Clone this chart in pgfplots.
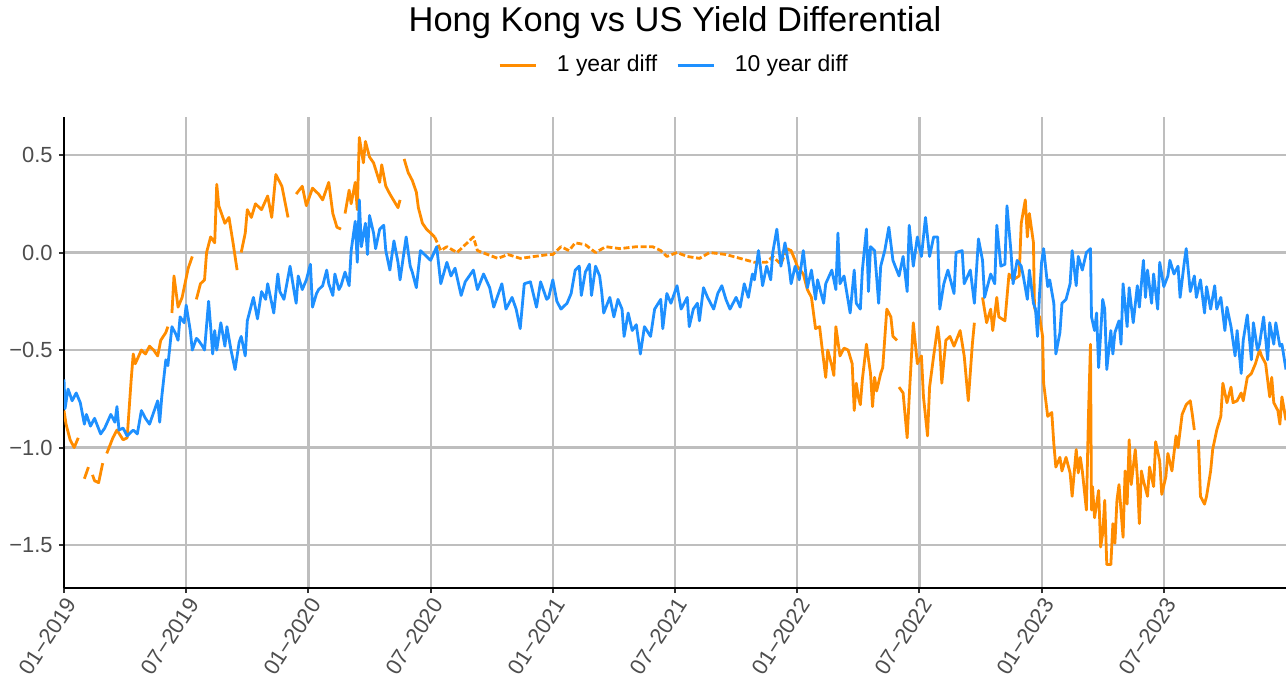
\documentclass[border=0pt]{standalone}
\usepackage{fontspec}
\setmainfont{Liberation Sans}
\usepackage{pgfplots}
\pgfplotsset{compat=1.18}
\definecolor{c1}{HTML}{FF8C00}
\definecolor{c2}{HTML}{1E90FF}
\definecolor{gridc}{HTML}{BEBEBE}
\definecolor{tickc}{HTML}{4D4D4D}
\begin{document}
\begin{tikzpicture}
\begin{axis}[
  at={(0,0)}, anchor=south west,
  scale only axis, width=611bp, height=235.5bp,
  xmin=0, xmax=60, ymin=-1.72, ymax=0.695,
  axis x line*=bottom, axis y line*=left,
  axis line style={black, line width=1.1bp},
  xtick={0,6,...,54},
  xticklabels={01−2019,07−2019,01−2020,07−2020,01−2021,07−2021,01−2022,07−2022,01−2023,07−2023},
  ytick={-1.5,-1,-0.5,0,0.5},
  yticklabels={−1.5,−1.0,−0.5,0.0,0.5},
  tick align=outside, major tick length=2.5bp,
  tick style={black!80, line width=1bp},
  grid=major, major grid style={gridc, line width=1.1bp},
  ticklabel style={font=\fontsize{11}{13}\selectfont, text=tickc},
  yticklabel style={inner sep=1.5bp, xshift=-1.5bp},
  xticklabel style={rotate=57, anchor=north east, inner sep=1bp},
  every axis title shift=0pt,
  title={Hong Kong vs US Yield Differential},
  title style={at={(0.5,1.1805)}, anchor=base, font=\fontsize{17.3}{20}\selectfont},
  legend style={at={(0.5,1.110)}, anchor=center, draw=none, fill=none,
    font=\fontsize{11.5}{13}\selectfont, legend columns=-1,
    /tikz/every odd column/.append style={column sep=8bp},
    /tikz/every even column/.append style={column sep=7.5bp}},
  legend image code/.code={\draw[#1, line width=1.4bp] (0bp,0bp) -- (18bp,0bp);},
  unbounded coords=jump,
  every axis plot/.append style={line width=1.4bp, line join=round},
]
\addplot[c1] table {
x y
0.0 -0.81
0.1 -0.88
0.3 -0.96
0.5 -1.00
0.7 -0.95
0.85 nan
1.0 -1.16
1.2 -1.10
1.35 nan
1.4 -1.14
1.5 -1.17
1.7 -1.18
1.9 -1.08
2.0 nan
2.1 -1.03
2.4 -0.95
2.6 -0.91
2.9 -0.96
3.1 -0.95
3.3 -0.65
3.4 -0.52
3.5 -0.57
3.8 -0.50
4.0 -0.52
4.2 -0.48
4.4 -0.50
4.6 -0.53
4.75 -0.45
5.0 -0.41
5.1 -0.38
5.2 nan
5.3 -0.31
5.4 -0.12
5.6 -0.28
5.8 -0.23
6.1 -0.08
6.3 -0.02
6.4 nan
6.5 -0.24
6.7 -0.16
6.9 -0.14
7.0 0.00
7.2 0.08
7.4 0.05
7.5 0.35
7.6 0.24
7.9 0.15
8.1 0.18
8.3 0.05
8.5 -0.09
8.6 nan
8.7 0.00
8.9 0.10
9.0 0.22
9.2 0.18
9.4 0.25
9.7 0.22
10.0 0.29
10.2 0.18
10.4 0.40
10.7 0.34
11.0 0.18
11.2 nan
11.4 0.30
11.7 0.34
11.9 0.24
12.2 0.33
12.5 0.30
12.7 0.27
13.0 0.36
13.2 0.20
13.4 0.13
13.6 0.12
13.7 nan
13.8 0.20
14.0 0.32
14.1 0.25
14.3 0.36
14.4 0.22
14.5 0.59
14.7 0.46
14.8 0.57
15.0 0.49
15.2 0.46
15.5 0.36
15.6 0.45
15.8 0.34
16.0 0.30
16.4 0.23
16.5 0.27
16.6 nan
16.7 0.48
16.9 0.41
17.1 0.37
17.3 0.31
17.4 0.23
17.6 0.15
17.8 0.12
18.2 0.08
};
\addlegendentry{1 year diff}
\addplot[c1, forget plot, dash pattern=on 3bp off 1.3bp] table {
x y
18.2 0.08
18.5 0.01
18.8 0.03
19.3 0.00
19.6 0.03
20.1 0.08
20.3 0.01
20.8 -0.01
21.3 -0.03
21.8 -0.01
22.4 -0.03
23.1 -0.02
23.8 -0.01
24.0 -0.01
24.4 0.03
24.8 0.01
25.1 0.05
25.6 0.04
26.1 0.00
26.6 0.03
27.3 0.02
28.1 0.03
28.9 0.03
29.3 0.01
29.6 -0.02
30.1 0.00
30.6 -0.02
31.2 -0.03
31.7 0.00
32.5 -0.01
33.2 -0.03
33.9 -0.05
34.5 -0.05
34.8 -0.02
35.2 -0.06
35.5 0.02
};
\addplot[c1, forget plot] table {
x y
35.5 0.02
35.7 0.01
35.9 -0.04
36.0 -0.07
36.3 -0.11
36.5 -0.19
36.7 -0.23
36.9 -0.39
37.1 -0.38
37.2 -0.47
37.4 -0.64
37.5 -0.50
37.7 -0.58
37.8 -0.63
37.9 -0.38
38.1 -0.53
38.3 -0.49
38.5 -0.50
38.7 -0.57
38.8 -0.81
38.9 -0.67
39.0 -0.74
39.1 -0.78
39.2 -0.65
39.4 -0.47
39.6 -0.62
39.7 -0.79
39.8 -0.64
39.9 -0.71
40.1 -0.62
40.2 -0.59
40.4 -0.29
40.6 -0.33
40.7 -0.43
40.9 -0.45
40.95 nan
41.0 -0.69
41.2 -0.72
41.4 -0.95
41.5 -0.74
41.7 -0.36
41.9 -0.57
42.1 -0.53
42.2 -0.74
42.4 -0.94
42.5 -0.69
42.7 -0.53
42.9 -0.38
43.0 -0.47
43.1 -0.67
43.3 -0.45
43.5 -0.43
43.7 -0.48
44.0 -0.40
44.2 -0.53
44.4 -0.76
44.6 -0.47
44.7 -0.36
44.9 nan
45.1 -0.23
45.3 -0.36
45.5 -0.29
45.6 -0.40
45.8 -0.23
45.9 -0.33
46.2 -0.35
46.4 -0.11
46.6 -0.14
46.9 -0.12
47.0 0.15
47.2 0.27
47.3 0.08
47.4 0.20
47.6 0.05
47.65 -0.28
47.7 -0.30
47.9 -0.33
48.05 -0.43
48.1 -0.67
48.3 -0.84
48.5 -0.82
48.6 -0.98
48.7 -1.10
48.9 -1.05
49.0 -1.12
49.2 -1.05
49.4 -1.13
49.5 -1.25
49.7 -1.01
49.8 -1.13
49.9 -1.05
50.0 -1.12
50.2 -1.32
50.3 -0.84
50.4 -0.47
50.45 -1.32
50.5 -1.20
50.6 -1.36
50.8 -1.22
50.9 -1.51
51.0 -1.44
51.1 -1.27
51.2 -1.60
51.4 -1.60
51.5 -1.39
51.6 -1.49
51.7 -1.27
51.8 -1.19
52.0 -1.46
52.1 -1.12
52.2 -1.29
52.3 -0.96
52.4 -1.19
52.6 -1.01
52.7 -1.15
52.8 -1.39
52.9 -1.12
53.0 -1.17
53.2 -1.25
53.3 -1.10
53.5 -1.20
53.6 -0.97
53.8 -1.07
53.9 -1.24
54.1 -1.15
54.2 -1.03
54.4 -1.12
54.6 -0.94
54.7 -1.00
54.9 -0.83
55.1 -0.78
55.3 -0.76
55.4 -0.83
55.5 -0.91
55.6 nan
55.7 -0.96
55.8 -1.25
56.0 -1.29
56.1 -1.25
56.3 -1.12
56.4 -1.01
56.5 -0.96
56.6 -0.91
56.8 -0.84
56.9 -0.67
57.1 -0.77
57.3 -0.69
57.4 -0.77
57.6 -0.76
57.8 -0.72
57.9 -0.76
58.1 -0.64
58.3 -0.62
58.5 -0.57
58.7 -0.50
58.8 -0.53
59.0 -0.57
59.2 -0.74
59.3 -0.64
59.4 -0.77
59.6 -0.81
59.7 -0.88
59.8 -0.74
60.0 -0.86
};
\addplot[c2] table {
x y
0.0 -0.65
0.05 -0.80
0.2 -0.70
0.4 -0.76
0.6 -0.72
0.8 -0.77
1.0 -0.88
1.1 -0.83
1.3 -0.89
1.5 -0.85
1.8 -0.93
2.0 -0.90
2.3 -0.83
2.5 -0.87
2.6 -0.79
2.7 -0.91
2.9 -0.90
3.1 -0.94
3.4 -0.91
3.6 -0.93
3.8 -0.81
4.0 -0.85
4.2 -0.88
4.4 -0.82
4.6 -0.76
4.7 -0.87
4.8 -0.74
5.0 -0.55
5.1 -0.58
5.3 -0.38
5.5 -0.42
5.6 -0.45
5.7 -0.33
5.9 -0.36
6.0 -0.27
6.2 -0.40
6.3 -0.50
6.5 -0.44
6.6 -0.45
6.8 -0.48
6.9 -0.50
7.1 -0.25
7.2 -0.38
7.3 -0.52
7.4 -0.40
7.5 -0.50
7.7 -0.36
7.9 -0.48
8.0 -0.38
8.2 -0.50
8.4 -0.60
8.6 -0.46
8.7 -0.43
8.9 -0.53
9.0 -0.35
9.3 -0.23
9.5 -0.34
9.7 -0.20
9.9 -0.24
10.0 -0.16
10.3 -0.31
10.5 -0.11
10.6 -0.20
10.8 -0.24
11.1 -0.07
11.3 -0.20
11.4 -0.26
11.5 -0.12
11.7 -0.19
11.9 -0.14
12.1 -0.06
12.2 -0.28
12.4 -0.21
12.5 -0.19
12.7 -0.17
12.9 -0.09
13.0 -0.16
13.2 -0.22
13.3 -0.11
13.5 -0.19
13.6 -0.17
13.8 -0.10
14.0 -0.17
14.1 0.01
14.3 0.16
14.4 -0.05
14.5 0.27
14.6 0.03
14.8 0.15
14.9 -0.01
15.0 0.19
15.2 0.10
15.3 0.02
15.5 0.12
15.7 0.14
15.8 0.01
16.0 -0.09
16.2 0.06
16.4 -0.05
16.5 -0.14
16.8 0.08
17.0 -0.07
17.1 -0.10
17.3 -0.18
17.5 0.01
17.8 -0.02
18.0 -0.04
18.3 0.03
18.5 -0.16
18.8 -0.05
19.0 -0.12
19.2 -0.08
19.5 -0.22
19.7 -0.15
20.1 -0.09
20.3 -0.19
20.6 -0.11
20.9 -0.18
21.1 -0.28
21.5 -0.16
21.7 -0.29
22.0 -0.23
22.2 -0.29
22.4 -0.39
22.6 -0.16
22.9 -0.15
23.2 -0.28
23.4 -0.15
23.7 -0.24
23.8 -0.23
24.0 -0.14
24.2 -0.25
24.4 -0.29
24.7 -0.26
24.9 -0.21
25.1 -0.09
25.3 -0.07
25.4 -0.22
25.6 -0.10
25.8 -0.06
25.9 -0.22
26.1 -0.07
26.3 -0.12
26.4 -0.20
26.5 -0.31
26.8 -0.23
27.0 -0.33
27.2 -0.24
27.4 -0.29
27.5 -0.43
27.7 -0.31
27.9 -0.40
28.1 -0.37
28.3 -0.52
28.5 -0.38
28.8 -0.43
29.0 -0.29
29.3 -0.24
29.4 -0.39
29.6 -0.21
29.8 -0.26
30.1 -0.17
30.3 -0.29
30.6 -0.23
30.7 -0.38
30.9 -0.29
31.1 -0.26
31.2 -0.35
31.4 -0.18
31.6 -0.23
31.9 -0.29
32.1 -0.21
32.3 -0.17
32.5 -0.24
32.7 -0.29
33.0 -0.23
33.2 -0.28
33.4 -0.16
33.6 -0.23
33.8 -0.11
33.9 -0.14
34.1 0.01
34.3 -0.17
34.5 -0.07
34.7 -0.14
34.8 0.00
35.0 0.12
35.2 -0.07
35.4 0.05
35.6 -0.07
35.7 -0.16
35.9 -0.07
36.0 -0.10
36.1 -0.14
36.3 0.01
36.5 -0.18
36.7 -0.09
36.9 -0.24
37.0 -0.14
37.3 -0.26
37.4 -0.16
37.7 -0.09
37.9 -0.19
38.0 0.10
38.1 -0.16
38.3 -0.12
38.6 -0.31
38.8 -0.09
38.9 -0.26
39.1 -0.29
39.2 -0.09
39.4 0.12
39.5 -0.20
39.6 0.03
39.8 0.01
40.0 -0.26
40.1 -0.07
40.3 0.01
40.5 0.13
40.7 -0.04
41.0 -0.12
41.2 -0.02
41.4 -0.20
41.5 0.14
41.7 -0.07
41.9 0.08
42.1 -0.02
42.3 0.18
42.5 -0.02
42.7 0.08
42.9 0.08
43.0 -0.29
43.2 -0.16
43.4 -0.09
43.7 -0.21
43.8 0.00
44.1 0.01
44.2 -0.16
44.5 -0.09
44.7 -0.26
44.9 0.07
45.1 -0.04
45.2 -0.23
45.5 -0.11
45.7 -0.16
45.8 0.14
46.0 -0.07
46.2 -0.06
46.3 0.24
46.5 0.00
46.6 -0.16
46.8 -0.04
47.0 -0.07
47.1 -0.12
47.3 -0.24
47.4 -0.09
47.6 -0.26
47.7 -0.29
47.8 -0.43
47.9 -0.21
48.0 -0.05
48.1 0.02
48.3 -0.175
48.4 -0.14
48.6 -0.26
48.7 -0.52
48.9 -0.41
49.0 -0.26
49.2 -0.24
49.4 -0.16
49.5 0.01
49.7 -0.17
49.8 -0.02
50.0 -0.09
50.2 0.00
50.4 0.02
50.45 -0.33
50.6 -0.40
50.7 -0.31
50.8 -0.59
51.0 -0.24
51.1 -0.29
51.2 -0.60
51.4 -0.40
51.5 -0.52
51.6 -0.41
51.8 -0.35
51.9 -0.47
52.0 -0.16
52.2 -0.38
52.3 -0.18
52.5 -0.36
52.7 -0.17
52.8 -0.28
53.0 -0.04
53.1 -0.23
53.2 -0.09
53.4 -0.26
53.5 -0.11
53.7 -0.29
53.8 -0.05
54.0 -0.175
54.2 -0.12
54.3 -0.04
54.5 -0.11
54.7 -0.07
54.8 -0.23
55.0 -0.055
55.1 0.02
55.3 -0.20
55.5 -0.12
55.6 -0.23
55.8 -0.14
56.0 -0.31
56.1 -0.175
56.3 -0.29
56.5 -0.17
56.6 -0.29
56.8 -0.23
57.0 -0.40
57.1 -0.28
57.3 -0.38
57.5 -0.53
57.6 -0.40
57.8 -0.62
57.9 -0.45
58.1 -0.32
58.3 -0.55
58.4 -0.36
58.6 -0.50
58.7 -0.47
58.9 -0.33
59.1 -0.55
59.2 -0.36
59.4 -0.47
59.5 -0.36
59.7 -0.48
59.8 -0.47
60.0 -0.60
};
\addlegendentry{10 year diff}
\end{axis}
\pgfresetboundingbox
\path[use as bounding box] (-32bp,-52.5bp) rectangle (611bp,294bp);
\end{tikzpicture}
\end{document}
